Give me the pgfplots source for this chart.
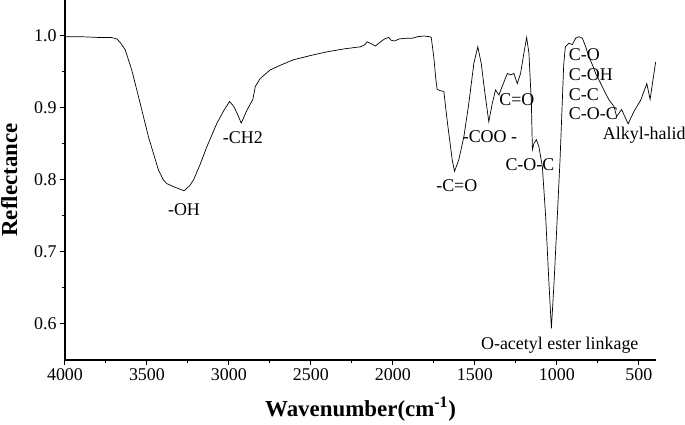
\documentclass[border=0pt]{standalone}
\usepackage{fontspec}
\setmainfont{Liberation Serif}
\usepackage{pgfplots}
\pgfplotsset{compat=1.18}

\pgfplotstableread{
wn    r
4000 0.999
3900 0.999
3800 0.998
3720 0.998
3684 0.996
3660 0.990
3633 0.981
3593 0.953
3542 0.907
3491 0.860
3430 0.814
3400 0.800
3379 0.795
3330 0.790
3273 0.785
3240 0.792
3216 0.800
3175 0.822
3135 0.846
3073 0.879
3030 0.897
2996 0.909
2970 0.902
2945 0.890
2925 0.879
2890 0.897
2854 0.912
2839 0.930
2809 0.941
2748 0.953
2680 0.960
2606 0.967
2500 0.973
2402 0.978
2300 0.982
2198 0.985
2170 0.988
2157 0.992
2130 0.989
2107 0.986
2080 0.991
2050 0.996
2025 0.998
2010 0.994
1990 0.993
1960 0.996
1913 0.997
1880 0.997
1850 0.999
1811 1.000
1775 0.999
1766 0.998
1750 0.970
1738 0.940
1730 0.926
1710 0.924
1689 0.923
1669 0.883
1638 0.828
1624 0.812
1598 0.828
1567 0.860
1537 0.906
1506 0.962
1482 0.985
1461 0.962
1441 0.925
1415 0.881
1394 0.906
1374 0.925
1353 0.918
1333 0.930
1302 0.948
1282 0.946
1262 0.948
1241 0.934
1221 0.948
1201 0.976
1184 0.998
1170 0.976
1155 0.906
1149 0.842
1139 0.851
1125 0.856
1109 0.846
1088 0.818
1068 0.749
1048 0.657
1033 0.594
1017 0.657
997  0.749
980  0.830
968  0.900
958  0.960
948  0.985
926  0.990
905  0.988
885  0.997
865  0.999
844  0.997
824  0.985
804  0.971
783  0.960
763  0.948
732  0.934
702  0.920
681  0.911
651  0.902
635  0.888
605  0.898
565  0.878
530  0.895
488  0.911
451  0.934
431  0.912
397  0.964
}\spectrum

\begin{document}
\begin{tikzpicture}
\begin{axis}[
    width=591bp, height=360bp, scale only axis,
    xmin=395, xmax=4000, x dir=reverse,
    ymin=0.55, ymax=1.05,
    clip mode=individual,
    axis x line*=bottom, axis y line*=left,
    axis line style={-, line width=1.1pt},
    xtick={500,1000,...,4000}, minor x tick num=1,
    ytick={0.6,0.7,0.8,0.9,1.0}, minor y tick num=1,
    tick align=outside, major tick length=5bp, minor tick length=3bp,
    tick style={line width=1pt, black},
    /pgf/number format/assume math mode=true,
    tick label style={font=\fontsize{18}{20}\selectfont},
    xticklabel style={/pgf/number format/1000 sep={}},
    yticklabel style={/pgf/number format/.cd, fixed, fixed zerofill, precision=1},
    xlabel={Wavenumber(cm\textsuperscript{-1})},
    ylabel={Reflectance},
    label style={font=\bfseries\fontsize{23}{26}\selectfont},
    x label style={at={(axis description cs:0.5,-0.158)}, anchor=base},
    y label style={at={(axis description cs:-0.081,0.5)}, anchor=base},
]
\addplot[black, line width=0.7pt] table[x=wn, y=r] {\spectrum};
\begin{scope}[font=\fontsize{18}{20}\selectfont]
\node at (axis cs:3274,0.759) {-OH};
\node at (axis cs:2915,0.859) {-CH2};
\node at (axis cs:1610,0.792) {-C=O};
\node at (axis cs:1408,0.860) {-COO -};
\node at (axis cs:1244,0.911) {C=O};
\node at (axis cs:1164,0.822) {C-O-C};
\node[anchor=west, align=left, inner xsep=0pt] at (axis cs:927,0.933) {C-O\\C-OH\\C-C\\C-O-C};
\node[anchor=west, inner xsep=0pt] at (axis cs:720,0.862) {Alkyl-halid};
\node at (axis cs:982,0.571) {O-acetyl ester linkage};
\end{scope}
\end{axis}
\pgfresetboundingbox
\path ([shift={(-65bp,-65bp)}]current axis.south west) rectangle ([shift={(29bp,0bp)}]current axis.north east);
\end{tikzpicture}
\end{document}
